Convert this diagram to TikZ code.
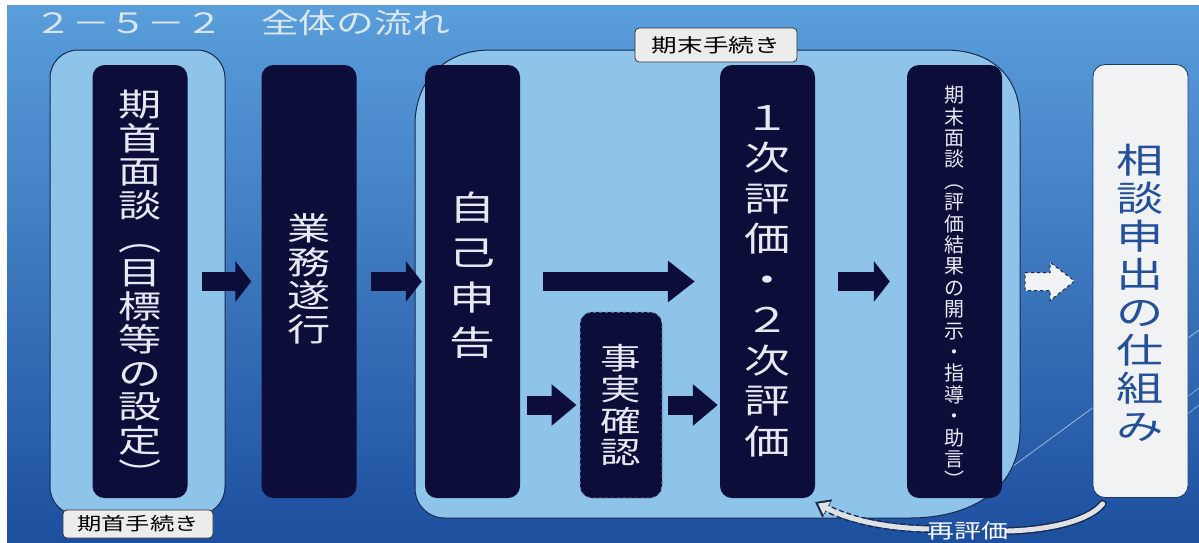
\documentclass[tikz,border=0pt]{standalone}
\usepackage{fontspec}
\usetikzlibrary{arrows.meta,calc}
\newfontfamily\jp{Noto Sans CJK JP}
\newfontfamily\jpw[FakeStretch=1.35]{Noto Sans CJK JP}
\definecolor{bgtop}{HTML}{5A9EDB}
\definecolor{bgmid}{HTML}{2F72C2}
\definecolor{bgbot}{HTML}{1D4F9F}
\definecolor{grp}{HTML}{8EC3EA}
\definecolor{grpline}{HTML}{17294F}
\definecolor{navy}{HTML}{0C0D38}
\definecolor{ink}{HTML}{E6E8F2}
\definecolor{paper}{HTML}{F1F2F4}
\definecolor{soudanblue}{HTML}{24509A}
\definecolor{tagfill}{HTML}{ECECEC}
\definecolor{titlecol}{HTML}{D9E6F4}
\definecolor{dashline}{HTML}{7F8FB0}
\tikzset{
  grpbox/.style={fill=grp, draw=grpline, line width=1pt},
  darkbox/.style={fill=navy, rounded corners=12pt, minimum width=95pt, minimum height=433pt, inner sep=0pt},
  vtext/.style={text=ink, align=center, inner sep=0pt},
  tagbox/.style={fill=tagfill, draw=black!80, rounded corners=4pt, line width=0.8pt, text=black, inner sep=0pt},
  blockarrow/.style={draw=navy, line width=19pt, -{Triangle[width=40pt,length=#1]}},
  blockarrow/.default=16pt,
  relout/.style={draw=grpline, line width=8pt, dash pattern=on 5pt off 3pt},
  relin/.style={draw=paper!85!gray, line width=5pt},
}
\begin{document}
\begin{tikzpicture}[x=1pt,y=-1pt]
\fill[white] (0,0) rectangle (1199,542);
\shade[top color=bgtop, middle color=bgmid, bottom color=bgbot] (7,5) rectangle (1199,542);
\useasboundingbox (0,0) rectangle (1199,542);
% streaks
\draw[white, opacity=0.55, line width=0.8pt] (1005,472) -- (1199,330);
\draw[white, opacity=0.45, line width=0.8pt] (1150,425) -- (1199,388);
\draw[white, opacity=0.45, line width=0.8pt] (1160,436) -- (1199,405);

% title
\node[anchor=west, inner sep=0pt, text=titlecol, font=\jpw\fontsize{28}{28}\selectfont] (title) at (34,23) {２－５－２　全体の流れ};

% groups
\node[grpbox, rounded corners=28pt, minimum width=175pt, minimum height=465pt, inner sep=0pt] (g1) at (137.5,282.5) {};
\draw[grpbox] (490,50) -- (945,50) .. controls (990,50) and (1020,75) .. (1020,120) -- (1020,430)
  .. controls (1020,490) and (970,518) .. (910,518) -- (445,518)
  .. controls (428,518) and (415,505) .. (415,488) -- (415,125)
  .. controls (415,80) and (445,50) .. (490,50) -- cycle;

% boxes
\node[darkbox] (kishu) at (140,281.5) {};
\node[darkbox] (gyomu) at (309,281.5) {};
\node[darkbox] (jiko) at (472.5,281.5) {};
\node[darkbox] (hyoka) at (767.5,281.5) {};
\node[darkbox] (kimatsu) at (954.5,281.5) {};
\node[darkbox, fill=paper, draw=soudanblue!70!black, line width=0.8pt] (soudan) at (1140.5,281) {};
\node[darkbox, minimum width=82pt, minimum height=186pt, draw=dashline, dashed, line width=1pt] (jijitsu) at (621,405) {};

% texts
\node[vtext, font=\jpw\fontsize{32}{33.6}\selectfont] (kishuT) at (kishu.center |- 0,288) {期\\首\\面\\談\\︵\\目\\標\\等\\の\\設\\定\\︶};
\node[vtext, font=\jpw\fontsize{32}{33.6}\selectfont] (gyomuT) at (gyomu.center |- 0,279) {業\\務\\遂\\行};
\node[vtext, font=\jpw\fontsize{34}{45}\selectfont] (jikoT) at (jiko.center |- 0,275) {自\\己\\申\\告};
\node[vtext, font=\jpw\fontsize{34}{40.5}\selectfont] (hyokaT) at (hyoka.center |- 0,281) {１\\次\\評\\価\\・\\２\\次\\評\\価};
\node[vtext, font=\jp\fontsize{20}{21.4}\selectfont] (kimatsuT) at (kimatsu.center |- 0,287) {期\\末\\面\\談\\︵\\評\\価\\結\\果\\の\\開\\示\\・\\指\\導\\・\\助\\言\\︶};
\node[vtext, font=\jpw\fontsize{30}{31.5}\selectfont] (jijitsuT) at (jijitsu.center) {事\\実\\確\\認};
\node[vtext, text=soudanblue, font=\jpw\fontsize{35}{38}\selectfont] (soudanT) at (soudan.center |- 0,293) {相\\談\\申\\出\\の\\仕\\組\\み};

% arrows
\draw[blockarrow] ([xshift=14pt]kishu.east) -- ([xshift=-10pt]gyomu.west);
\draw[blockarrow] ([xshift=14pt]gyomu.east) -- ([xshift=-3pt]jiko.west);
\draw[blockarrow=27pt] ([xshift=23pt]jiko.east) -- ([xshift=-25pt]hyoka.west);
\draw[blockarrow=25pt] ($(jijitsu.west -| jiko.east)+(7,0)$) -- ([xshift=-3pt]jijitsu.west);
\draw[blockarrow=25pt] ([xshift=5pt]jijitsu.east) -- ($(jijitsu.east -| hyoka.west)+(-2,0)$);
\draw[blockarrow] ([xshift=23pt]hyoka.east) -- ([xshift=-17pt]kimatsu.west);
\draw[fill=paper, draw=grpline, dashed, line width=1pt]
  ($(kimatsu.east)+(23,-9)$) -- ($(kimatsu.east)+(48,-9)$) -- ($(kimatsu.east)+(48,-19)$)
  -- ($(soudan.west)+(-18,0)$) -- ($(kimatsu.east)+(48,19)$) -- ($(kimatsu.east)+(48,9)$)
  -- ($(kimatsu.east)+(23,9)$) -- cycle;

% tags
\node[tagbox, minimum width=150pt, minimum height=28pt, font=\jpw\fontsize{18}{18}\selectfont] (tag1) at (138,524) {期首手続き};
\node[tagbox, minimum width=162pt, minimum height=34pt, font=\jpw\fontsize{19}{19}\selectfont] (tag2) at (716,45) {期末手続き};

% re-evaluation
\coordinate (reS) at ($(soudan.south west)+(10,6)$);
\coordinate (reA) at (1008,531);
\coordinate (reB) at (929,529);
\coordinate (reE) at (815,502);
\draw[relout, line cap=round] (reS) .. controls (1088,522) and (1045,530) .. (reA);
\draw[relout, -{Triangle[width=20pt,length=14pt]}] (reB) .. controls (880,528) and (845,518) .. (reE);
\draw[relin, line cap=round] (reS) .. controls (1088,522) and (1045,530) .. (reA);
\draw[relin, -{Triangle[width=14pt,length=10pt]}] (reB) .. controls (880,528) and (845,518) .. ([shift={(3,1.5)}]reE);
\node[text=white, inner sep=0pt, font=\jpw\fontsize{20}{20}\selectfont] (retext) at (968,531) {再評価};
\end{tikzpicture}
\end{document}
